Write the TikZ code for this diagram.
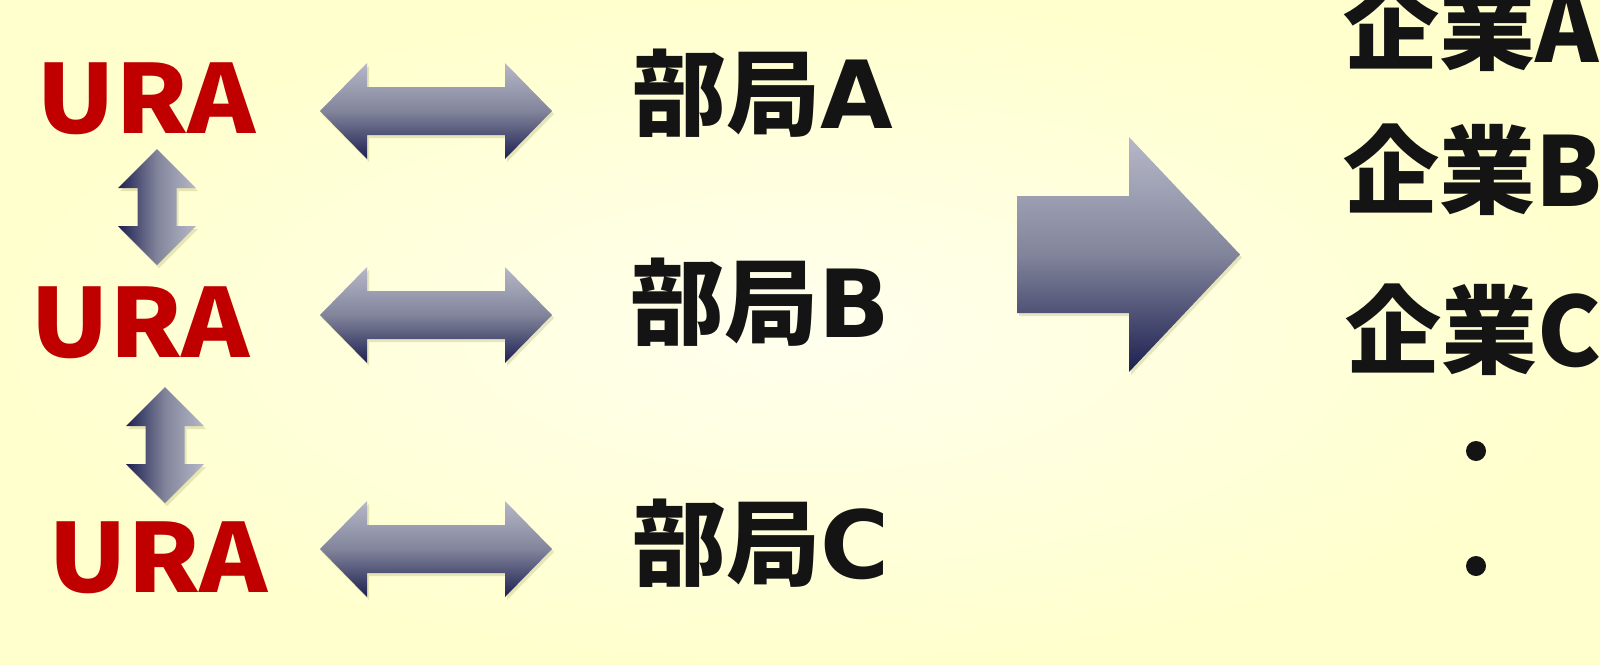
\documentclass[tikz,border=0pt]{standalone}
\usepackage{fontspec}
\newfontfamily\jp{Noto Sans CJK JP}
\newfontfamily\dv{DejaVu Sans}
\usetikzlibrary{shadows}
\definecolor{ura}{RGB}{192,0,0}
\definecolor{ink}{RGB}{20,20,20}
\definecolor{arlight}{RGB}{182,184,200}
\definecolor{armid}{RGB}{130,132,155}
\definecolor{ardark}{RGB}{28,32,80}
\definecolor{bgin}{RGB}{255,255,238}
\definecolor{bgout}{RGB}{255,255,206}
\newcommand\urawide[1]{\scalebox{1.09}[1]{#1}}
\begin{document}
\begin{tikzpicture}[x=1pt,y=-1pt,
  ura/.style={anchor=base west, inner sep=0, text=ura, font=\jp\bfseries\fontsize{95}{100}\selectfont},
  dept/.style={anchor=base west, inner sep=0, text=ink, font=\jp\bfseries\fontsize{94}{100}\selectfont},
  firm/.style={anchor=base west, inner sep=0, text=ink, font=\jp\bfseries\fontsize{96}{100}\selectfont},
  dotnode/.style={circle, fill=ink, inner sep=0, minimum size=20pt},
  shd/.style={drop shadow={opacity=0.22, shadow xshift=2pt, shadow yshift=-3pt, fill=black!50!yellow}},
  hshade/.style={shd, top color=arlight, bottom color=ardark, middle color=armid},
  vshade/.style={shd, left color=ardark, right color=arlight, middle color=armid},
  hdarrow/.pic={\shade[hshade] (-116,0) -- (-69,-48) -- (-69,-24) -- (69,-24) -- (69,-48) -- (116,0)
      -- (69,48) -- (69,24) -- (-69,24) -- (-69,48) -- cycle;},
  vdarrow/.pic={\shade[vshade] (0,-58) -- (39,-19) -- (19.5,-19) -- (19.5,19) -- (39,19) -- (0,58)
      -- (-39,19) -- (-19.5,19) -- (-19.5,-19) -- (-39,-19) -- cycle;}
]
\useasboundingbox (0,0) rectangle (1600,664);
\shade[inner color=bgin, outer color=bgout] (0,0) rectangle (1600,664);

% URA labels
\node[ura] (u1) at (36,133) {\urawide{URA}};
\node[ura] (u2) at (30,357) {\urawide{URA}};
\node[ura] (u3) at (48,592) {\urawide{URA}};

% departments
\node[dept] (b1) at (632,128) {部局{\dv\bfseries A}};
\node[dept] (b2) at (630,337) {部局{\dv\bfseries B}};
\node[dept] (b3) at (632,578) {部局{\dv\bfseries C}};

% firms
\node[firm] (k1) at (1343,62) {企業A};
\node[firm] (k2) at (1343,206) {企業B};
\node[firm] (k3) at (1345,366) {企業C};
\node[dotnode] (d1) at (1476,451) {};
\node[dotnode] (d2) at (1476,566) {};

% horizontal double arrows
\pic (h1) at (436,111) {hdarrow};
\pic (h2) at (436,315) {hdarrow};
\pic (h3) at (436,549) {hdarrow};

% vertical double arrows
\pic (v1) at (157,207) {vdarrow};
\pic (v2) at (165,445) {vdarrow};

% big arrow
\shade[hshade] (1017,196) -- (1129,196) -- (1129,137) -- (1240,254.5) -- (1129,372) -- (1129,313) -- (1017,313) -- cycle;
\end{tikzpicture}
\end{document}
